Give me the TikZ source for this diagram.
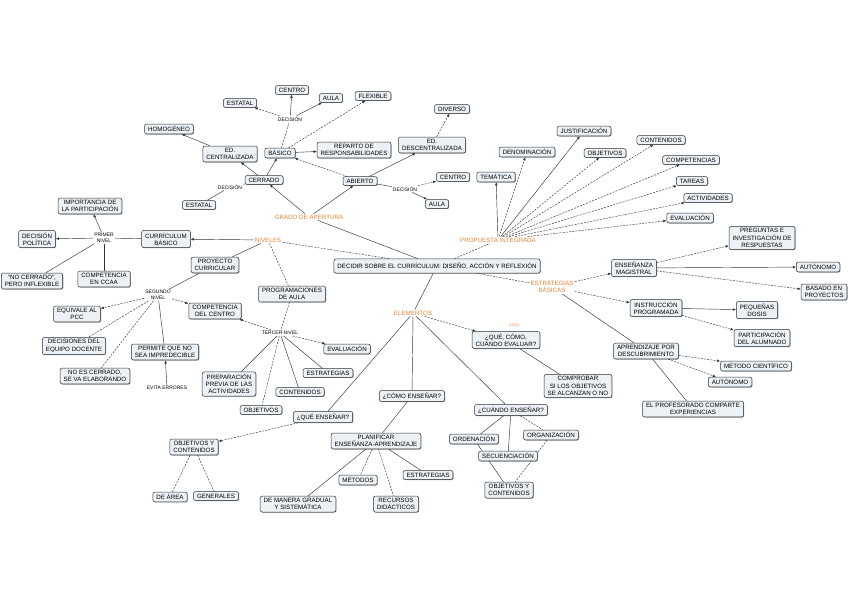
\documentclass[tikz,border=0pt]{standalone}
\usepackage{fontspec}
\setmainfont{Liberation Sans}
\usetikzlibrary{arrows.meta,backgrounds,shadows}
\definecolor{cmedge}{RGB}{45,50,55}
\definecolor{cmfill}{RGB}{236,241,245}
\definecolor{cmlink}{RGB}{230,130,50}
\tikzset{
  cbox/.style={
    draw=cmedge, fill=cmfill, line width=0.5pt, rounded corners=2pt,
    align=center, inner xsep=3.5pt, inner ysep=2.2pt, font=\fontsize{6.2}{7.2}\selectfont,
    drop shadow={shadow xshift=0.6pt, shadow yshift=-0.6pt, opacity=0.45, fill=black}
  },
  lphr/.style={text=cmlink, font=\fontsize{6.2}{7.2}\selectfont, align=center, inner sep=1pt},
  sphr/.style={font=\fontsize{5}{5.8}\selectfont, align=center, inner sep=1pt},
  ln/.style={draw=cmedge, line width=0.45pt},
  dln/.style={ln, dash pattern=on 2pt off 1.2pt},
  arr/.style={ln, -{Latex[length=3.2pt,width=2.6pt]}},
  darr/.style={arr, dash pattern=on 2pt off 1.2pt}
}
\begin{document}
\begin{tikzpicture}[x=1pt, y=-1pt]
  \useasboundingbox (0,0) rectangle (848,599);
  \node[cbox, inner ysep=4pt] (main) at (437,266) {DECIDIR SOBRE EL CURRÍCULUM: DISEÑO, ACCIÓN Y REFLEXIÓN};
  \node[lphr] (grado) at (309,217) {GRADO DE APERTURA};
  \node[lphr] (niveles) at (268,240) {NIVELES};
  \node[lphr] (propuesta) at (498,240) {PROPUESTA INTEGRADA};
  \node[lphr] (estrat) at (552,287) {ESTRATEGIAS\\BÁSICAS};
  \node[lphr] (elem) at (413,313) {ELEMENTOS};

  \node[cbox] (cerrado) at (264,180) {CERRADO};
  \node[cbox] (edcent) at (230,154) {ED.\\CENTRALIZADA};
  \node[cbox] (homog) at (169,129) {HOMOGÉNEO};
  \node[cbox] (basico) at (280,153) {BÁSICO};
  \node[sphr] (decA) at (290,119) {DECISIÓN};
  \node[cbox] (estatalA) at (240,103) {ESTATAL};
  \node[cbox] (centroA) at (292,90) {CENTRO};
  \node[cbox] (aulaA) at (331,98) {AULA};
  \node[cbox] (flexible) at (373,96) {FLEXIBLE};
  \node[cbox] (reparto) at (354,150) {REPARTO DE\\RESPONSABILIDADES};
  \node[cbox] (abierto) at (360,181) {ABIERTO};
  \node[cbox] (eddesc) at (432,145) {ED.\\DESCENTRALIZADA};
  \node[cbox] (diverso) at (452,109) {DIVERSO};
  \node[sphr] (decB) at (405,189) {DECISIÓN};
  \node[cbox] (centroB) at (453,177) {CENTRO};
  \node[cbox] (aulaB) at (437,204) {AULA};
  \node[sphr] (decC) at (230,187) {DECISIÓN};
  \node[cbox] (estatalB) at (199,205) {ESTATAL};

  \node[cbox] (curbas) at (166,239) {CURRÍCULUM\\BÁSICO};
  \node[sphr] (nivel1) at (104,238) {PRIMER\\NIVEL};
  \node[cbox] (import) at (90,206) {IMPORTANCIA DE\\LA PARTICIPACIÓN};
  \node[cbox] (decpol) at (37,239) {DECISIÓN\\POLÍTICA};
  \node[cbox] (nocerr) at (32,281) {“NO CERRADO”,\\PERO INFLEXIBLE};
  \node[cbox] (compcc) at (104,279) {COMPETENCIA\\EN CCAA};
  \node[cbox] (proycur) at (215,265) {PROYECTO\\CURRICULAR};
  \node[sphr] (nivel2) at (158,295) {SEGUNDO\\NIVEL};
  \node[cbox] (compcen) at (215,311) {COMPETENCIA\\DEL CENTRO};
  \node[cbox] (equiv) at (77,314) {EQUIVALE AL\\PCC};
  \node[cbox] (decequ) at (74,346) {DECISIONES DEL\\EQUIPO DOCENTE};
  \node[cbox] (noes) at (95,376) {NO ES CERRADO,\\SE VA ELABORANDO};
  \node[cbox] (permite) at (165,352) {PERMITE QUE NO\\SEA IMPREDECIBLE};
  \node[sphr] (evita) at (167,388) {EVITA ERRORES};
  \node[cbox] (progaula) at (292,294) {PROGRAMACIONES\\DE AULA};
  \node[sphr] (nivel3) at (280,333) {TERCER NIVEL};
  \node[cbox] (evalA) at (347,349) {EVALUACIÓN};
  \node[cbox] (estrA) at (328,373) {ESTRATEGIAS};
  \node[cbox] (contA) at (300,392) {CONTENIDOS};
  \node[cbox] (objA) at (261,410) {OBJETIVOS};
  \node[cbox] (prep) at (229,384) {PREPARACIÓN\\PREVIA DE LAS\\ACTIVIDADES};

  \node[cbox] (tematica) at (496,177) {TEMÁTICA};
  \node[cbox] (denom) at (527,152) {DENOMINACIÓN};
  \node[cbox] (justif) at (584,131) {JUSTIFICACIÓN};
  \node[cbox] (objB) at (605,153) {OBJETIVOS};
  \node[cbox] (contB) at (661,140) {CONTENIDOS};
  \node[cbox] (compet) at (691,160) {COMPETENCIAS};
  \node[cbox] (tareas) at (692,181) {TAREAS};
  \node[cbox] (activ) at (708,198) {ACTIVIDADES};
  \node[cbox] (evalB) at (690,218) {EVALUACIÓN};

  \node[cbox] (ensmag) at (634,268) {ENSEÑANZA\\MAGISTRAL};
  \node[cbox] (instr) at (656,308) {INSTRUCCIÓN\\PROGRAMADA};
  \node[cbox] (aprend) at (646,351) {APRENDIZAJE POR\\DESCUBRIMIENTO};
  \node[cbox] (pregun) at (762,238) {PREGUNTAS E\\INVESTIGACIÓN DE\\RESPUESTAS};
  \node[cbox] (autonA) at (818,267) {AUTÓNOMO};
  \node[cbox] (basado) at (824,292) {BASADO EN\\PROYECTOS};
  \node[cbox] (pequen) at (757,310) {PEQUEÑAS\\DOSIS};
  \node[cbox] (partic) at (762,338) {PARTICIPACIÓN\\DEL ALUMNADO};
  \node[cbox] (metodo) at (756,366) {MÉTODO CIENTÍFICO};
  \node[cbox] (autonB) at (730,382) {AUTÓNOMO};
  \node[cbox] (profes) at (693,409) {EL PROFESORADO COMPARTE\\EXPERIENCIAS};

  \node[cbox] (queval) at (506,340) {¿QUÉ, CÓMO,\\CUÁNDO EVALUAR?};
  \node[lphr, font=\fontsize{4.8}{5.6}\selectfont] (qmark) at (514,326) {????};
  \node[cbox] (comprob) at (578,386) {COMPROBAR\\SI LOS OBJETIVOS\\SE ALCANZAN O NO};
  \node[cbox] (como) at (412,396) {¿CÓMO ENSEÑAR?};
  \node[cbox] (cuando) at (511,410) {¿CUÁNDO ENSEÑAR?};
  \node[cbox] (que) at (323,417) {¿QUÉ ENSEÑAR?};
  \node[cbox] (objcont) at (194,447) {OBJETIVOS Y\\CONTENIDOS};
  \node[cbox] (area) at (170,497) {DE ÁREA};
  \node[cbox] (gener) at (216,496) {GENERALES};
  \node[cbox] (planif) at (376,441) {PLANIFICAR\\ENSEÑANZA-APRENDIZAJE};
  \node[cbox] (gradual) at (298,504) {DE MANERA GRADUAL\\Y SISTEMÁTICA};
  \node[cbox] (metodos) at (358,480) {MÉTODOS};
  \node[cbox] (recursos) at (396,504) {RECURSOS\\DIDÁCTICOS};
  \node[cbox] (estrB) at (428,475) {ESTRATEGIAS};
  \node[cbox] (orden) at (474,439) {ORDENACIÓN};
  \node[cbox] (organ) at (551,435) {ORGANIZACIÓN};
  \node[cbox] (secuen) at (508,456) {SECUENCIACIÓN};
  \node[cbox] (objcontB) at (509,490) {OBJETIVOS Y\\CONTENIDOS};

  \begin{scope}[on background layer]
    \draw[ln] (main) -- (grado);
    \draw[arr] (grado) -- (cerrado);
    \draw[arr] (grado) -- (abierto);
    \draw[arr] (cerrado) -- (edcent);
    \draw[arr] (edcent) -- (homog);
    \draw[arr] (cerrado) -- (basico);
    \draw[ln] (cerrado) -- (decC);
    \draw[ln] (decC) -- (estatalB);
    \draw[dln] (basico) -- (decA);
    \draw[darr] (decA) -- (estatalA);
    \draw[arr] (decA) -- (centroA);
    \draw[arr] (decA) -- (aulaA);
    \draw[darr] (basico) -- (flexible);
    \draw[arr] (basico) -- (reparto);
    \draw[darr] (abierto) -- (basico);
    \draw[arr] (abierto) -- (eddesc);
    \draw[darr] (eddesc) -- (diverso);
    \draw[ln] (abierto) -- (decB);
    \draw[darr] (decB) -- (centroB);
    \draw[arr] (decB) -- (aulaB);

    \draw[dln] (main) -- (niveles);
    \draw[arr] (niveles) -- (curbas);
    \draw[ln] (curbas) -- (nivel1);
    \draw[arr] (nivel1) -- (import);
    \draw[arr] (nivel1) -- (decpol);
    \draw[ln] (nivel1) -- (nocerr);
    \draw[ln] (nivel1) -- (compcc);
    \draw[ln] (niveles) -- (proycur);
    \draw[ln] (proycur) -- (nivel2);
    \draw[darr] (nivel2) -- (compcen);
    \draw[darr] (nivel2) -- (equiv);
    \draw[dln] (nivel2) -- (decequ);
    \draw[dln] (nivel2) -- (noes);
    \draw[ln] (nivel2) -- (permite);
    \draw[arr] (evita) -- (permite);
    \draw[dln] (niveles) -- (progaula);
    \draw[dln] (progaula) -- (nivel3);
    \draw[darr] (nivel3) -- (compcen);
    \draw[darr] (nivel3) -- (evalA);
    \draw[ln] (nivel3) -- (estrA);
    \draw[ln] (nivel3) -- (contA);
    \draw[dln] (nivel3) -- (objA);
    \draw[ln] (nivel3) -- (prep);

    \draw[dln] (main) -- (propuesta);
    \draw[arr] (propuesta) -- (tematica);
    \draw[darr] (propuesta) -- (denom);
    \draw[arr] (propuesta) -- (justif);
    \draw[darr] (propuesta) -- (objB);
    \draw[darr] (propuesta) -- (contB);
    \draw[darr] (propuesta) -- (compet);
    \draw[darr] (propuesta) -- (tareas);
    \draw[darr] (propuesta) -- (activ);
    \draw[darr] (propuesta) -- (evalB);

    \draw[dln] (main) -- (estrat);
    \draw[darr] (estrat) -- (ensmag);
    \draw[darr] (estrat) -- (instr);
    \draw[ln] (estrat) -- (aprend);
    \draw[darr] (ensmag) -- (pregun);
    \draw[arr] (ensmag) -- (autonA);
    \draw[darr] (ensmag) -- (basado);
    \draw[arr] (instr) -- (pequen);
    \draw[darr] (instr) -- (partic);
    \draw[darr] (aprend) -- (metodo);
    \draw[darr] (aprend) -- (autonB);
    \draw[ln] (aprend) -- (profes);

    \draw[ln] (main) -- (elem);
    \draw[darr] (elem) -- (queval);
    \draw[ln] (queval) -- (comprob);
    \draw[ln] (elem) -- (como);
    \draw[ln] (elem) -- (cuando);
    \draw[ln] (elem) -- (que);
    \draw[darr] (que) -- (objcont);
    \draw[dln] (objcont) -- (area);
    \draw[dln] (objcont) -- (gener);
    \draw[ln] (como) -- (planif);
    \draw[ln] (planif) -- (gradual);
    \draw[dln] (planif) -- (metodos);
    \draw[dln] (planif) -- (recursos);
    \draw[ln] (planif) -- (estrB);
    \draw[ln] (cuando) -- (orden);
    \draw[ln] (cuando) -- (secuen);
    \draw[dln] (cuando) -- (organ);
    \draw[ln] (orden) -- (objcontB);
    \draw[dln] (organ) -- (objcontB);
  \end{scope}
\end{tikzpicture}
\end{document}
